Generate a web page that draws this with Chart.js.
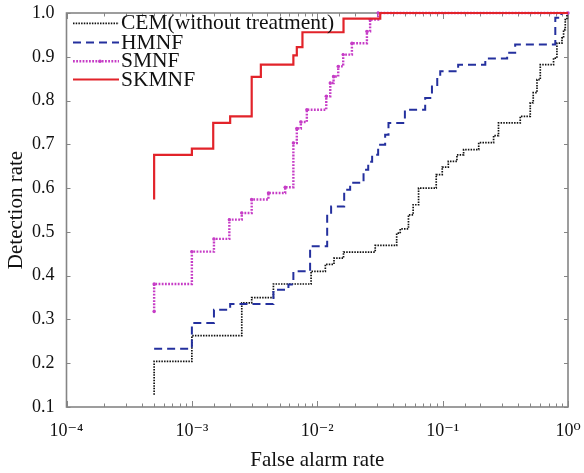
<!DOCTYPE html>
<html><head><meta charset="utf-8">
<script src="https://cdn.jsdelivr.net/npm/chart.js@4/dist/chart.umd.min.js"></script>
<style>html,body{margin:0;padding:0;background:#fff;}canvas{display:block;}</style>
</head><body>
<canvas id="c" width="584" height="473"></canvas>
<script>
// ---- data ----
const seriesNames = ['CEM(without treatment)', 'HMNF', 'SMNF', 'SKMNF'];

const cemX = [5e-4, 5e-4, 1e-3, 2.5e-3, 3.0e-3, 4.47e-3, 8.93e-3, 1.16e-2, 1.36e-2, 1.62e-2, 2.9e-2, 4.3e-2, 4.59e-2, 5.34e-2, 5.82e-2, 6.43e-2, 8.89e-2, 9.93e-2, 0.111, 0.130, 0.147, 0.194, 0.255, 0.279, 0.416, 0.500, 0.528, 0.566, 0.601, 0.767, 0.816, 0.895, 0.922, 0.951, 0.981, 1];
const cemY = [0.128, 0.204, 0.263, 0.338, 0.350, 0.381, 0.410, 0.426, 0.440, 0.454, 0.469, 0.497, 0.507, 0.539, 0.562, 0.600, 0.631, 0.648, 0.661, 0.676, 0.688, 0.704, 0.720, 0.749, 0.764, 0.795, 0.818, 0.848, 0.882, 0.897, 0.931, 0.943, 0.962, 0.985, 1.0, 1.0];

const hmnfX = [5e-4, 1e-3, 1.5e-3, 2.02e-3, 4.47e-3, 5.89e-3, 6.45e-3, 8.77e-3, 1.2e-2, 1.29e-2, 1.64e-2, 1.83e-2, 2.34e-2, 2.55e-2, 2.74e-2, 3.06e-2, 3.48e-2, 3.70e-2, 5.0e-2, 7.26e-2, 8.22e-2, 9.06e-2, 9.57e-2, 0.133, 0.219, 0.327, 0.379, 0.792, 0.885, 1];
const hmnfY = [0.233, 0.292, 0.322, 0.335, 0.368, 0.380, 0.410, 0.467, 0.541, 0.558, 0.596, 0.612, 0.642, 0.660, 0.676, 0.699, 0.722, 0.749, 0.779, 0.806, 0.832, 0.852, 0.867, 0.882, 0.896, 0.909, 0.928, 0.989, 1.0, 1.0];

const smnfX = [5e-4, 5e-4, 1e-3, 1.5e-3, 1.99e-3, 2.5e-3, 3.0e-3, 4.08e-3, 5.55e-3, 6.45e-3, 6.87e-3, 7.4e-3, 8.26e-3, 1.18e-2, 1.27e-2, 1.35e-2, 1.47e-2, 1.61e-2, 1.89e-2, 2.49e-2, 2.64e-2, 3.06e-2, 1];
const smnfY = [0.318, 0.381, 0.455, 0.484, 0.528, 0.543, 0.574, 0.589, 0.602, 0.703, 0.736, 0.751, 0.779, 0.810, 0.840, 0.855, 0.878, 0.905, 0.931, 0.958, 0.985, 1.0, 1.0];

const skmnfX = [5e-4, 5e-4, 1e-3, 1.48e-3, 2.02e-3, 3.0e-3, 3.55e-3, 6.45e-3, 6.87e-3, 7.62e-3, 1.62e-2, 3.18e-2, 1];
const skmnfY = [0.574, 0.676, 0.690, 0.749, 0.764, 0.854, 0.882, 0.903, 0.922, 0.956, 0.987, 1.0, 1.0];

const xMin = 1e-4, xMax = 1, yMin = 0.1, yMax = 1.0, yStep = 0.1;
const xTitle = 'False alarm rate';
const yTitle = 'Detection rate';

// ---- styling ----
const SERIF = '"Liberation Serif", "DejaVu Serif", "Times New Roman", serif';
const colors = ['#111111', '#24309e', '#c63cc6', '#e2232a'];
const pts = (xs, ys) => xs.map((x, i) => ({x, y: ys[i]}));
const SUP = {'-':'\u207B','0':'\u2070','1':'\u00B9','2':'\u00B2','3':'\u00B3','4':'\u2074','5':'\u2075'};
const sup = n => String(n).split('').map(c => SUP[c]).join('');
const isMajor = v => { const l = Math.log10(v); return Math.abs(l - Math.round(l)) < 1e-9; };

const datasets = [
  {label: seriesNames[0], data: pts(cemX, cemY), borderColor: colors[0], borderWidth: 1.7, borderDash: [1.5, 1.2], pointRadius: 0, stepped: true, order: 3},
  {label: seriesNames[1], data: pts(hmnfX, hmnfY), borderColor: colors[1], borderWidth: 2, borderDash: [8, 5], pointRadius: 0, stepped: true, order: 2},
  {label: seriesNames[2], data: pts(smnfX, smnfY), borderColor: colors[2], backgroundColor: colors[2], borderWidth: 2.4, borderDash: [1.8, 1.4], pointRadius: 1.7, pointBorderWidth: 0, pointBackgroundColor: colors[2], stepped: true, order: 1},
  {label: seriesNames[3], data: pts(skmnfX, skmnfY), borderColor: colors[3], borderWidth: 2.2, pointRadius: 0, stepped: true, order: 0}
];
datasets.forEach(d => { d.fill = false; d.clip = 4; });

const framePlugin = {
  id: 'frame',
  beforeDatasetsDraw(chart) {
    const {ctx, chartArea: a, scales: {x, y}} = chart;
    ctx.save();
    ctx.strokeStyle = '#858585';
    ctx.lineWidth = 1;
    ctx.beginPath();
    x.ticks.forEach(t => {
      const px = Math.round(x.getPixelForValue(t.value)) + 0.5;
      const len = isMajor(t.value) ? 6 : 3.5;
      ctx.moveTo(px, a.bottom); ctx.lineTo(px, a.bottom - len);
      ctx.moveTo(px, a.top); ctx.lineTo(px, a.top + len);
    });
    y.ticks.forEach(t => {
      const py = Math.round(y.getPixelForValue(t.value)) + 0.5;
      ctx.moveTo(a.left, py); ctx.lineTo(a.left + 4, py);
      ctx.moveTo(a.right, py); ctx.lineTo(a.right - 4, py);
    });
    ctx.stroke();
    ctx.lineWidth = 1.6;
    ctx.strokeRect(a.left, a.top, a.right - a.left, a.bottom - a.top);
    ctx.restore();
  }
};

const legendPlugin = {
  id: 'insideLegend',
  afterDatasetsDraw(chart) {
    const ctx = chart.ctx;
    const rows = [23.3, 42.6, 61.3, 79.5];
    const x0 = 73, x1 = 119, tx = 121;
    ctx.save();
    chart.data.datasets.forEach((d, i) => {
      const yy = rows[i];
      ctx.strokeStyle = d.borderColor;
      ctx.lineWidth = d.borderWidth;
      ctx.setLineDash(d.borderDash || []);
      ctx.beginPath(); ctx.moveTo(x0, yy); ctx.lineTo(x1, yy); ctx.stroke();
      ctx.setLineDash([]);
      if (d.pointRadius > 0) {
        ctx.fillStyle = d.borderColor;
        ctx.beginPath(); ctx.arc((x0 + x1) / 2 + 4, yy, 1.8, 0, Math.PI * 2); ctx.fill();
      }
      ctx.fillStyle = '#111';
      ctx.font = '21.5px ' + SERIF;
      ctx.textBaseline = 'alphabetic';
      ctx.textAlign = 'left';
      ctx.fillText(d.label, tx, yy + 6);
    });
    ctx.restore();
  }
};

new Chart(document.getElementById('c'), {
  type: 'line',
  data: {datasets},
  plugins: [framePlugin, legendPlugin],
  options: {
    responsive: false,
    animation: false,
    devicePixelRatio: 1,
    layout: {padding: {top: 13, right: 16, left: 0, bottom: 0}},
    plugins: {legend: {display: false}, tooltip: {enabled: false}},
    scales: {
      x: {
        type: 'logarithmic', min: xMin, max: xMax,
        grid: {display: false}, border: {display: false},
        ticks: {
          autoSkip: false, maxRotation: 0, padding: 5, color: '#111',
          font: {family: SERIF, size: 18},
          callback: v => isMajor(v) ? '10' + sup(Math.round(Math.log10(v))) : ''
        },
        title: {display: true, text: xTitle, color: '#111', font: {family: SERIF, size: 21}, padding: {top: 0, bottom: 0}},
        afterFit(s) { s.height = 66; s.paddingLeft = 0; s.paddingRight = 0; }
      },
      y: {
        min: yMin, max: yMax,
        grid: {display: false}, border: {display: false},
        ticks: {stepSize: yStep, padding: 4, color: '#111', font: {family: SERIF, size: 18}, callback: v => v.toFixed(1)},
        title: {display: true, text: yTitle, color: '#111', font: {family: SERIF, size: 21}, padding: {top: 4, bottom: 0}},
        afterFit(s) { s.width = 66.5; s.paddingTop = 0; s.paddingBottom = 0; }
      }
    }
  }
});
</script>
</body></html>
